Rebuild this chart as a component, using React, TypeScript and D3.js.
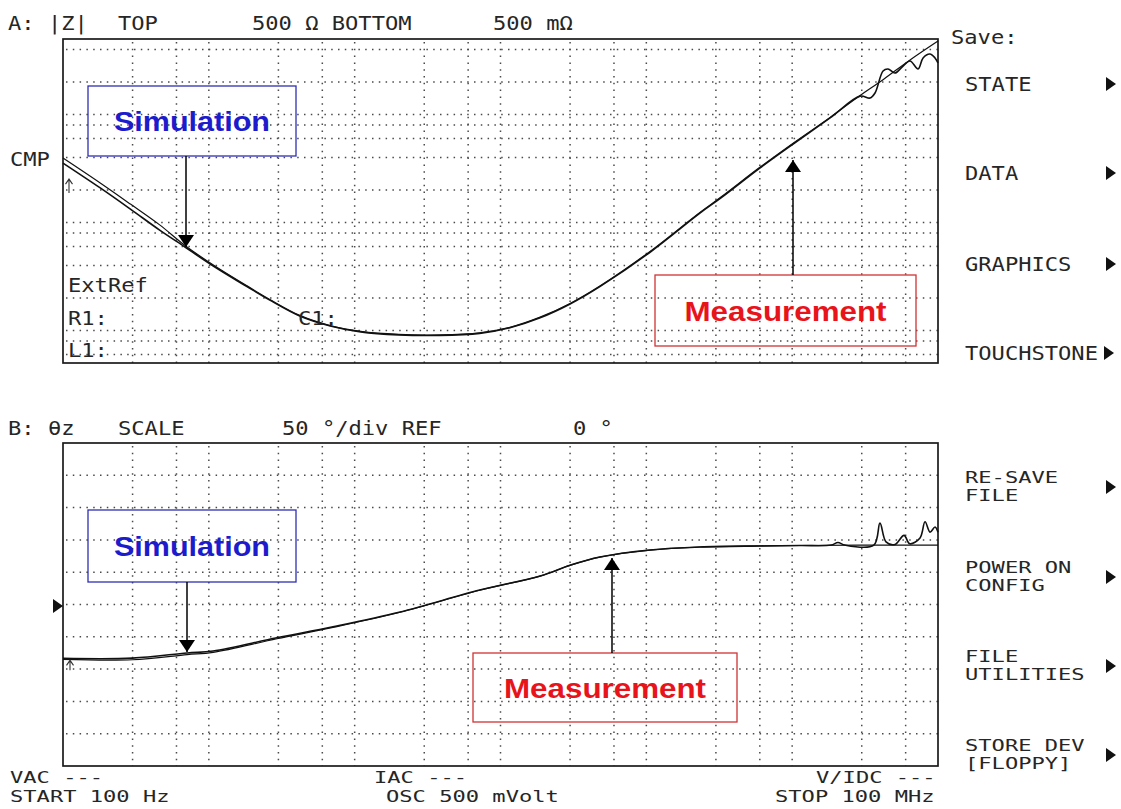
import { useEffect, useRef } from "react";
import * as d3 from "d3";

type Pt = [number, number];

// grid positions (Hz, ohm, degree)
const gridFreqs = [300, 600, 1e3, 3e3, 6e3, 1e4, 3e4, 6e4, 1e5, 3e5, 6e5, 1e6, 3e6, 6e6, 1e7, 3e7, 6e7];
const gridOhms = [0.6, 0.8, 1, 2, 4, 6, 8, 10, 20, 40, 60, 80, 100, 200, 400];
const gridDeg = [-200, -150, -100, -50, 0, 50, 100, 150, 200];

// trace A: |Z| (ohm) vs frequency (Hz)
const zSim: Pt[] = [
    [100, 39.5], [180, 23.2], [290, 14.8], [460, 9.5], [690, 6.1], [1100, 3.95], [1800, 2.62],
    [2600, 1.95], [4200, 1.38], [6800, 1.11], [11000, 0.98], [20000, 0.92], [38000, 0.91],
    [72000, 0.95], [116000, 1.07], [187000, 1.33], [300000, 1.78], [480000, 2.58],
    [1060000, 5.4], [2330000, 12.4], [3250000, 17.2], [6000000, 32.4], [10100000, 54],
    [18200000, 94], [29200000, 150], [42000000, 210], [64300000, 320], [100000000, 479],
];
const zMeas: Pt[] = [
    [100, 35.5], [180, 20.9], [290, 13.3], [460, 8.5], [690, 5.9], [1100, 3.87], [1800, 2.58],
    [2600, 1.92], [4200, 1.36], [6800, 1.10], [11000, 0.97], [20000, 0.91], [38000, 0.90],
    [72000, 0.94], [116000, 1.06], [187000, 1.31], [300000, 1.76], [480000, 2.55],
    [1060000, 5.3], [2330000, 12.2], [3250000, 16.9], [6000000, 31.9], [10100000, 53],
    [18200000, 93], [29200000, 148], [34200000, 142], [37000000, 158], [42000000, 253],
    [45400000, 264], [50700000, 242], [56700000, 275], [64300000, 313], [73000000, 264],
    [79000000, 334], [88000000, 363], [95400000, 334], [100000000, 300],
];

// trace B: phase (deg) vs frequency (Hz)
const phSim: Pt[] = [
    [100, -85], [300, -85.5], [710, -77.5], [1070, -74], [2930, -53], [7100, -35.5],
    [20500, -12], [72000, 22], [187000, 44], [300000, 60.5], [480000, 73.3],
    [1060000, 84.2], [2330000, 89], [6000000, 90.6], [11300000, 91.3], [29200000, 92],
    [100000000, 92],
];
const phMeas: Pt[] = [
    [100, -83.3], [300, -83], [710, -75], [1070, -72], [2930, -51.5], [7100, -34.5],
    [20500, -11.6], [72000, 22.4], [187000, 44.2], [300000, 60.8], [480000, 73.5],
    [1060000, 84.4], [2330000, 89], [6000000, 90.6], [11300000, 91.3], [18500000, 92],
    [20600000, 96], [23000000, 92], [36300000, 92], [40000000, 126], [44000000, 97],
    [50700000, 93], [58500000, 107], [64000000, 94], [75300000, 103], [81500000, 128],
    [88200000, 112], [95400000, 120], [100000000, 112],
];

// screen texts
const headerA = [{ x: 8, t: "A: |Z|" }, { x: 118, t: "TOP" }, { x: 252, t: "500 Ω BOTTOM" }, { x: 493, t: "500 mΩ" }];
const headerB = [{ x: 8, t: "B: θz" }, { x: 118, t: "SCALE" }, { x: 282, t: "50 °/div REF" }, { x: 573, t: "0 °" }];
const menuTop = [{ y: 91, t: ["STATE"] }, { y: 180, t: ["DATA"] }, { y: 271, t: ["GRAPHICS"] }, { y: 360, t: ["TOUCHSTONE"] }];
const menuBottom = [
    { y: 483, t: ["RE-SAVE", "FILE"] },
    { y: 573, t: ["POWER ON", "CONFIG"] },
    { y: 662, t: ["FILE", "UTILITIES"] },
    { y: 751, t: ["STORE DEV", "[FLOPPY]"] },
];
const footer = [
    { x: 10, y: 783, t: "VAC ---" }, { x: 10, y: 802, t: "START 100 Hz" },
    { x: 374, y: 783, t: "IAC ---" }, { x: 386, y: 802, t: "OSC 500 mVolt" },
    { x: 816, y: 783, t: "V/IDC ---" }, { x: 775, y: 802, t: "STOP 100 MHz" },
];

const width = 1121;
const height = 809;
const left = 63, right = 938;
const topA = 39, botA = 363;
const topB = 443, botB = 766;

const mono = (g: any, x: number, y: number, s: string, size = 20) => {
    const sx = 13.3 / (size * 0.602);
    g.append('text')
        .attr('transform', `translate(${x},${y}) scale(${sx},1)`)
        .attr('font-family', '"DejaVu Sans Mono", monospace')
        .attr('font-size', size)
        .attr('fill', '#262626')
        .text(s);
};

const tri = (g: any, x: number, y: number) => {
    g.append('path')
        .attr('d', `M${x},${y - 7} L${x + 10},${y} L${x},${y + 7} Z`)
        .attr('fill', '#111');
};

export default function App() {
    const svgRef = useRef<SVGSVGElement | null>(null);

    useEffect(() => {
        const svg = d3.select(svgRef.current);
        svg.selectAll('*').remove();

        svg.append('rect').attr('width', width).attr('height', height).attr('fill', 'white');

        const x = d3.scaleLog().domain([100, 1e8]).range([left, right]);
        const yA = d3.scaleLog().domain([0.5, 500]).range([botA, topA]);
        const yB = d3.scaleLinear().domain([-250, 250]).range([botB, topB]);

        const drawGrid = (yScale: any, vals: number[], top: number, bot: number) => {
            const g = svg.append('g')
                .attr('stroke', '#4a4a4a')
                .attr('stroke-width', 1.5)
                .attr('stroke-dasharray', '1.5 5.3');
            g.selectAll('.v').data(gridFreqs).join('line')
                .attr('x1', d => x(d)).attr('x2', d => x(d))
                .attr('y1', top + 3).attr('y2', bot);
            g.selectAll('.h').data(vals).join('line')
                .attr('x1', left + 3).attr('x2', right)
                .attr('y1', d => yScale(d)).attr('y2', d => yScale(d));
            svg.append('rect')
                .attr('x', left).attr('y', top)
                .attr('width', right - left).attr('height', bot - top)
                .attr('fill', 'none').attr('stroke', '#1a1a1a').attr('stroke-width', 1.7);
        };
        drawGrid(yA, gridOhms, topA, botA);
        drawGrid(yB, gridDeg, topB, botB);

        // traces
        const smooth = d3.curveCatmullRom.alpha(0.5);
        const lineA = d3.line<Pt>().x(d => x(d[0])).y(d => yA(d[1])).curve(smooth);
        const lineB = d3.line<Pt>().x(d => x(d[0])).y(d => yB(d[1])).curve(smooth);
        const traces: [string | null, number][] = [
            [lineA(zSim), 1.2], [lineA(zMeas), 1.6], [lineB(phSim), 1.2], [lineB(phMeas), 1.6],
        ];
        traces.forEach(([d, w]) => {
            svg.append('path').attr('d', d).attr('fill', 'none')
                .attr('stroke', '#111').attr('stroke-width', w).attr('stroke-linejoin', 'round');
        });

        // start markers
        [[x(100) + 6, yA(zMeas[0][1]) + 30, 14], [x(100) + 7, yB(phMeas[0][1]) + 12, 10]].forEach(([mx, my, len]) => {
            svg.append('path')
                .attr('d', `M${mx},${my} V${my - len} M${mx - 3.5},${my - len + 5} L${mx},${my - len} L${mx + 3.5},${my - len + 5}`)
                .attr('fill', 'none').attr('stroke', '#333').attr('stroke-width', 1.1);
        });

        // text
        headerA.forEach(h => mono(svg, h.x, 30, h.t));
        headerB.forEach(h => mono(svg, h.x, 435, h.t));
        mono(svg, 951, 44, "Save:");
        mono(svg, 10, 166, "CMP");
        mono(svg, 68, 292, "ExtRef");
        mono(svg, 68, 325, "R1:");
        mono(svg, 68, 357, "L1:");
        mono(svg, 298, 325, "C1:");
        menuTop.forEach(m => {
            mono(svg, 965, m.y, m.t[0]);
            tri(svg, m.t[0].length > 8 ? 1104 : 1106, m.y - 7);
        });
        menuBottom.forEach(m => {
            mono(svg, 965, m.y, m.t[0], 15);
            mono(svg, 965, m.y + 18, m.t[1], 15);
            tri(svg, 1106, m.y + 4);
        });
        tri(svg, 53, yB(0) + 1.5);
        footer.forEach(f => mono(svg, f.x, f.y, f.t, 15));

        // annotation callouts
        const defs = svg.append('defs');
        defs.append('marker')
            .attr('id', 'head').attr('viewBox', '0 0 12 16')
            .attr('refX', 12).attr('refY', 8)
            .attr('markerWidth', 12).attr('markerHeight', 16)
            .attr('markerUnits', 'userSpaceOnUse').attr('orient', 'auto')
            .append('path').attr('d', 'M0,0 L12,8 L0,16 Z').attr('fill', '#000');

        const callouts = [
            { bx: 88, by: 86, bw: 208, bh: 70, text: 'Simulation', tl: 156, col: '#1c1ccc', stroke: '#2e2eb4', ax: 186, ay: 156, tip: yA(5.93) },
            { bx: 655, by: 275, bw: 261, bh: 71, text: 'Measurement', tl: 202, col: '#e8141c', stroke: '#d03434', ax: 793, ay: 275, tip: yA(37.9) },
            { bx: 88, by: 510, bw: 208, bh: 72, text: 'Simulation', tl: 156, col: '#1c1ccc', stroke: '#2e2eb4', ax: 187, ay: 582, tip: yB(-73.5) },
            { bx: 473, by: 653, bw: 264, bh: 69, text: 'Measurement', tl: 202, col: '#e8141c', stroke: '#d03434', ax: 612, ay: 653, tip: yB(72) },
        ];
        callouts.forEach(c => {
            svg.append('rect')
                .attr('x', c.bx).attr('y', c.by).attr('width', c.bw).attr('height', c.bh)
                .attr('fill', 'none').attr('stroke', c.stroke).attr('stroke-width', 1.3);
            svg.append('text')
                .attr('x', c.bx + c.bw / 2 - c.tl / 2).attr('y', c.by + c.bh / 2 + 10)
                .attr('textLength', c.tl).attr('lengthAdjust', 'spacingAndGlyphs')
                .attr('font-family', '"Liberation Sans", Arial, sans-serif')
                .attr('font-weight', 'bold').attr('font-size', 28)
                .attr('fill', c.col)
                .text(c.text);
            svg.append('line')
                .attr('x1', c.ax).attr('y1', c.ay).attr('x2', c.ax).attr('y2', c.tip)
                .attr('stroke', '#000').attr('stroke-width', 1.5)
                .attr('marker-end', 'url(#head)');
        });
    }, []);

    return (
        <div style={{ position: 'absolute', left: 0, top: 0 }}>
            <svg ref={svgRef} width={width} height={height} style={{ display: 'block' }} />
        </div>
    );
}
